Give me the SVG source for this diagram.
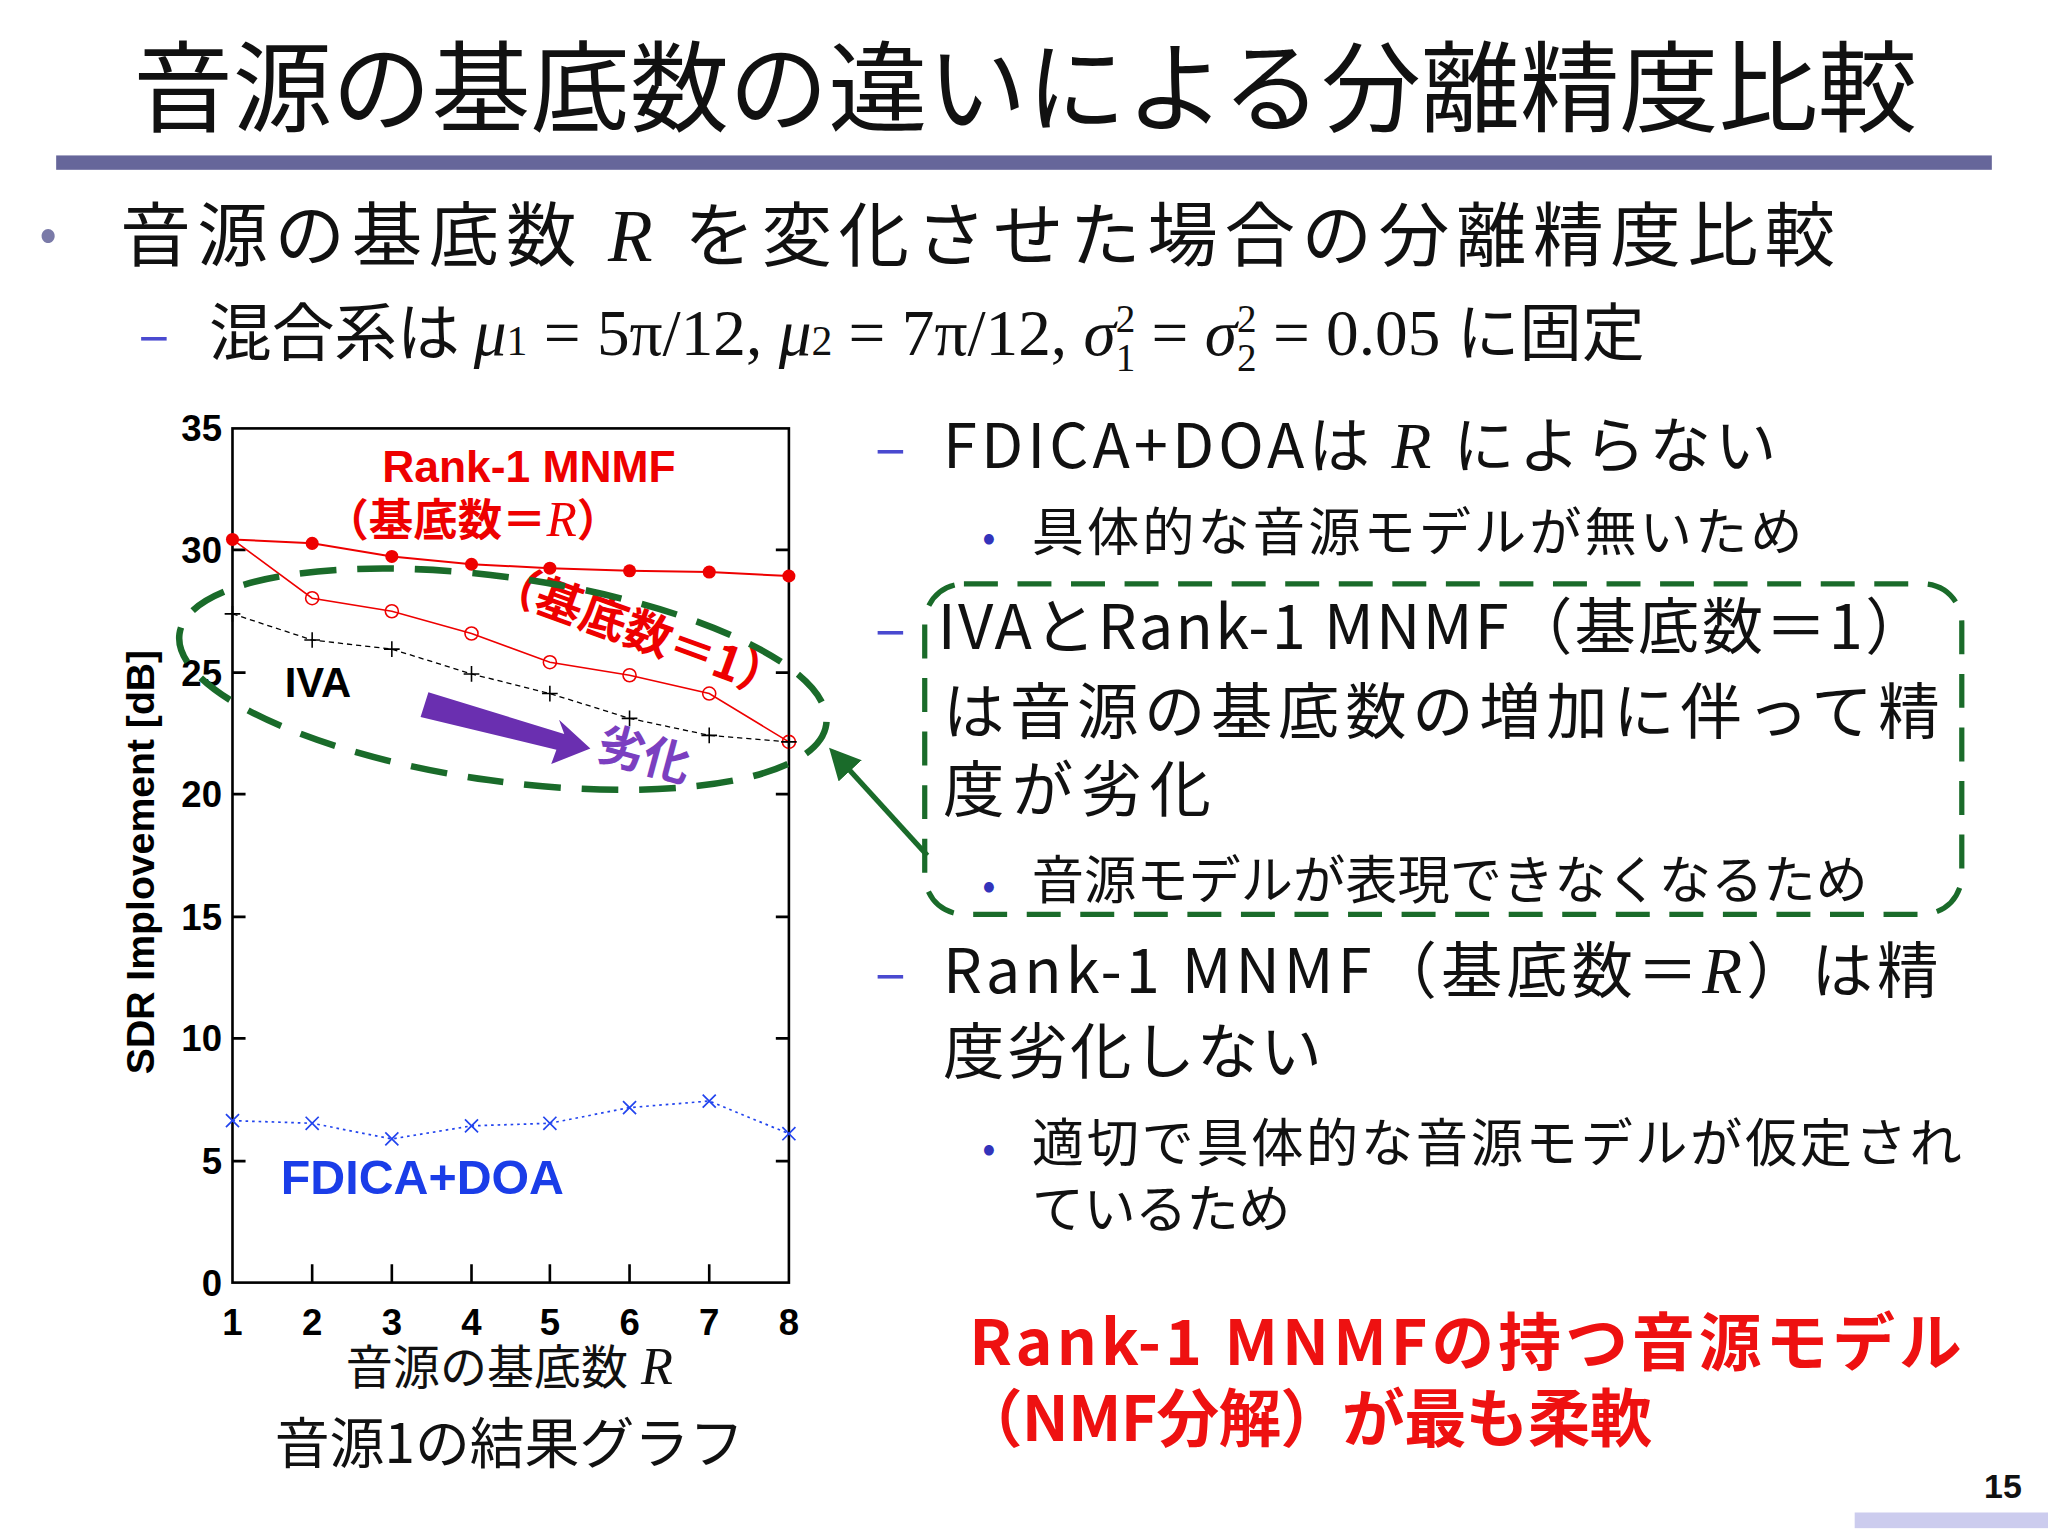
<svg xmlns="http://www.w3.org/2000/svg" width="2048" height="1536" viewBox="0 0 2048 1536">
<style>
.j{font-family:"Noto Sans CJK JP","Noto Sans",sans-serif}
.a{font-family:"Liberation Sans",Arial,sans-serif;font-weight:bold}
.m{font-family:"Liberation Serif","DejaVu Serif",serif;font-style:italic}
.n{font-family:"Liberation Serif","DejaVu Serif",serif}
.tk{stroke:#000;stroke-width:2}
</style>
<defs>
<marker id="ga" viewBox="0 0 10 10" refX="8" refY="5" markerWidth="6" markerHeight="6" orient="auto"><path d="M0,0L10,5L0,10z" fill="#1a6b2a"/></marker>
</defs>
<rect width="2048" height="1536" fill="#fff"/>
<g transform="scale(1.30612)">
<g id="title">
<text x="785" y="95" text-anchor="middle" class="j" font-size="76" fill="#111">音源の基底数の違いによる分離精度比較</text>
<rect x="43" y="119" width="1482" height="11" fill="#66669a"/>
</g>
<g id="bullets">
<text x="30" y="192" class="j" font-size="40" fill="#7a7aa8">•</text>
<text x="92" y="200" class="j" font-size="54" fill="#111" textLength="1313">音源の基底数<tspan class="m" font-size="56"> R </tspan>を変化させた場合の分離精度比較</text>
<text x="106" y="272" class="j" font-size="44" fill="#4a4ad0">–</text>
<text x="160" y="272" class="j" font-size="48" fill="#111">混合系は <tspan class="m" font-size="50">μ</tspan><tspan class="n" font-size="32">1</tspan><tspan class="n" font-size="50"> = 5π/12, </tspan><tspan class="m" font-size="50">μ</tspan><tspan class="n" font-size="32">2</tspan><tspan class="n" font-size="50"> = 7π/12, </tspan><tspan class="m" font-size="50">σ</tspan><tspan class="n" font-size="30" dy="-18">2</tspan><tspan class="n" font-size="30" dx="-15" dy="30">1</tspan><tspan class="n" font-size="50" dy="-12"> = </tspan><tspan class="m" font-size="50">σ</tspan><tspan class="n" font-size="30" dy="-18">2</tspan><tspan class="n" font-size="30" dx="-15" dy="30">2</tspan><tspan class="n" font-size="50" dy="-12"> = 0.05 </tspan>に固定</text>
</g>
<g id="chart">
<rect x="178" y="328" width="426" height="654" fill="none" stroke="#000" stroke-width="2"/>
<g class="tk">
<path d="M178,795h10M178,889h10M178,702h10M178,608h10M178,515h10M178,421h10M604,795h-10M604,889h-10M604,702h-10M604,608h-10M604,515h-10M604,421h-10"/>
<path d="M239,982v-14M300,982v-14M361,982v-14M421,982v-14M482,982v-14M543,982v-14"/>
</g>
<g class="a" font-size="28" text-anchor="end">
<text x="170" y="338">35</text><text x="170" y="431">30</text><text x="170" y="525">25</text><text x="170" y="618">20</text><text x="170" y="712">15</text><text x="170" y="805">10</text><text x="170" y="899">5</text><text x="170" y="992">0</text>
</g>
<g class="a" font-size="28" text-anchor="middle">
<text x="178" y="1022">1</text><text x="239" y="1022">2</text><text x="300" y="1022">3</text><text x="361" y="1022">4</text><text x="421" y="1022">5</text><text x="482" y="1022">6</text><text x="543" y="1022">7</text><text x="604" y="1022">8</text>
</g>
<text transform="translate(118,660) rotate(-90)" text-anchor="middle" class="a" font-size="30">SDR Implovement [dB]</text>
<text x="390" y="1060" text-anchor="middle" class="j" font-size="36" fill="#111">音源の基底数<tspan class="m" font-size="40"> R</tspan></text>
<text x="390" y="1120" text-anchor="middle" class="j" font-size="42" fill="#111">音源1の結果グラフ</text>
</g>
<g id="series">
<polyline points="178,413 239,416 300,426 361,432 421,435 482,437 543,438 604,441" fill="none" stroke="#e00" stroke-width="1.5"/>
<g fill="#e00"><circle cx="178" cy="413" r="5"/><circle cx="239" cy="416" r="5"/><circle cx="300" cy="426" r="5"/><circle cx="361" cy="432" r="5"/><circle cx="421" cy="435" r="5"/><circle cx="482" cy="437" r="5"/><circle cx="543" cy="438" r="5"/><circle cx="604" cy="441" r="5"/></g>
<polyline points="178,413 239,458 300,468 361,485 421,507 482,517 543,531 604,568" fill="none" stroke="#e00" stroke-width="1.2"/>
<g fill="none" stroke="#e00" stroke-width="1.2"><circle cx="239" cy="458" r="5"/><circle cx="300" cy="468" r="5"/><circle cx="361" cy="485" r="5"/><circle cx="421" cy="507" r="5"/><circle cx="482" cy="517" r="5"/><circle cx="543" cy="531" r="5"/><circle cx="604" cy="568" r="5"/></g>
<polyline points="178,470 239,490 300,497 361,516 421,531 482,550 543,563 604,568" fill="none" stroke="#000" stroke-width="1" stroke-dasharray="4,3"/>
<path d="M172,470h12M178,464v12M233,490h12M239,484v12M294,497h12M300,491v12M355,516h12M361,510v12M415,531h12M421,525v12M476,550h12M482,544v12M537,563h12M543,557v12M598,568h12M604,562v12" stroke="#000" stroke-width="1.2"/>
<polyline points="178,858 239,860 300,872 361,862 421,860 482,848 543,843 604,868" fill="none" stroke="#2244ee" stroke-width="1.3" stroke-dasharray="2,3"/>
<path d="M173,853l10,10M183,853l-10,10M234,855l10,10M244,855l-10,10M295,867l10,10M305,867l-10,10M356,857l10,10M366,857l-10,10M416,855l10,10M426,855l-10,10M477,843l10,10M487,843l-10,10M538,838l10,10M548,838l-10,10M599,863l10,10M609,863l-10,10" stroke="#2244ee" stroke-width="1.3"/>
<text x="405" y="369" text-anchor="middle" class="a" font-size="34" fill="#e00">Rank-1 MNMF</text>
<text x="362" y="410" text-anchor="middle" class="j" font-size="34" font-weight="bold" fill="#e00">（基底数＝<tspan class="m" font-weight="normal" font-size="38">R</tspan>）</text>
<text transform="translate(485,495) rotate(20)" text-anchor="middle" class="j" font-size="36" font-weight="bold" fill="#e00">（基底数＝1）</text>
<text x="218" y="534" class="a" font-size="32" fill="#000">IVA</text>
<text x="215" y="914" class="a" font-size="37" fill="#1a3de8">FDICA+DOA</text>
<path d="M328,530L432,562L428,551L452,573L422,585L426,574L322,549z" fill="#6a2fb0"/>
<text transform="translate(490,590) rotate(15)" text-anchor="middle" class="j" font-size="36" font-weight="bold" fill="#7b3fc0">劣化</text>
</g>
<g id="highlight">
<ellipse cx="385" cy="520" rx="250" ry="78" transform="rotate(8,385,520)" fill="none" stroke="#1a6b2a" stroke-width="5" stroke-dasharray="28,16"/>
<rect x="708" y="447" width="794" height="253" rx="30" fill="none" stroke="#1a6b2a" stroke-width="4" stroke-dasharray="26,15"/>
</g>
<g id="connectors">
<line x1="710" y1="655" x2="638" y2="576" stroke="#1a6b2a" stroke-width="4" marker-end="url(#ga)"/>
</g>
<g id="right" class="j" fill="#111">
<text x="670" y="358" font-size="44" fill="#4a4ad0">–</text>
<text x="722" y="358" font-size="47" textLength="638">FDICA+DOAは <tspan class="m" font-size="50">R</tspan> によらない</text>
<text x="752" y="422" font-size="30" fill="#3333bb">•</text>
<text x="790" y="422" font-size="40" textLength="590">具体的な音源モデルが無いため</text>
<text x="670" y="497" font-size="44" fill="#4a4ad0">–</text>
<text x="718" y="497" font-size="47" textLength="757">IVAとRank-1 MNMF（基底数＝1）</text>
<text x="722" y="562" font-size="47" textLength="763">は音源の基底数の増加に伴って精</text>
<text x="722" y="622" font-size="47" textLength="205">度が劣化</text>
<text x="752" y="688" font-size="30" fill="#3333bb">•</text>
<text x="790" y="688" font-size="40" textLength="640">音源モデルが表現できなくなるため</text>
<text x="670" y="760" font-size="44" fill="#4a4ad0">–</text>
<text x="722" y="760" font-size="47" textLength="762">Rank-1 MNMF（基底数＝<tspan class="m" font-size="50">R</tspan>）は精</text>
<text x="722" y="822" font-size="47" textLength="290">度劣化しない</text>
<text x="752" y="890" font-size="30" fill="#3333bb">•</text>
<text x="790" y="890" font-size="40" textLength="712">適切で具体的な音源モデルが仮定され</text>
<text x="790" y="940" font-size="40" textLength="198">ているため</text>
<text x="742" y="1045" font-size="48" font-weight="bold" fill="#ee1111" textLength="760">Rank-1 MNMFの持つ音源モデル</text>
<text x="735" y="1103" font-size="48" font-weight="bold" fill="#ee1111" textLength="530">（NMF分解）が最も柔軟</text>
</g>
<g id="footer">
<text x="1548" y="1147" text-anchor="end" class="a" font-weight="normal" font-size="26" fill="#111">15</text>
<rect x="1420" y="1158" width="148" height="12" fill="#ccccee"/>
</g>
</g>
</svg>
